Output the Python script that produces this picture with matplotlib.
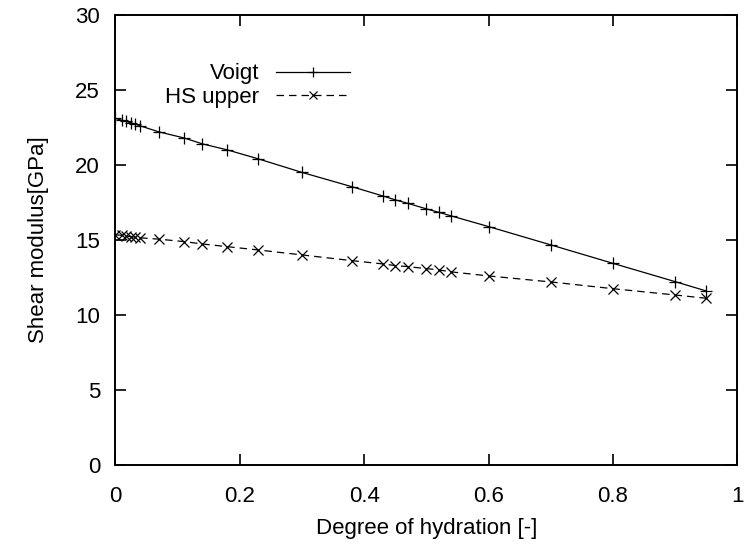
import numpy as np
import matplotlib
matplotlib.use('Agg')
import matplotlib.pyplot as plt

plt.rcParams['font.family'] = ['Liberation Sans', 'DejaVu Sans']

# degree of hydration
alpha = [0.0, 0.01, 0.017, 0.025, 0.032, 0.04, 0.07, 0.11, 0.14, 0.18, 0.23, 0.3,
         0.38, 0.43, 0.45, 0.47, 0.5, 0.52, 0.54, 0.6, 0.7, 0.8, 0.9, 0.95]
# shear modulus [GPa]
voigt = [23.1, 22.98, 22.9, 22.8, 22.72, 22.6, 22.2, 21.8, 21.4, 21.0, 20.4, 19.5,
         18.55, 17.93, 17.67, 17.44, 17.07, 16.84, 16.6, 15.89, 14.67, 13.44, 12.22, 11.6]
hs_upper = [15.35, 15.3, 15.26, 15.22, 15.18, 15.14, 15.05, 14.89, 14.73, 14.55, 14.33, 14.0,
            13.62, 13.4, 13.29, 13.22, 13.09, 13.0, 12.87, 12.6, 12.2, 11.75, 11.33, 11.11]

fig = plt.figure(figsize=(7.44, 5.49), dpi=100)
ax = fig.add_axes([0.155, 0.153, 0.836, 0.82])

ax.plot(alpha, voigt, color='black', lw=0.9, marker='+', ms=9, mew=0.9, label='Voigt')
ax.plot(alpha, hs_upper, color='black', lw=0.9, ls=(0, (6, 4)), marker='x', ms=7.5, mew=0.9,
        label='HS upper')

ax.set_xlim(0, 1)
ax.set_ylim(0, 30)
ax.set_xticks([0, 0.2, 0.4, 0.6, 0.8, 1])
ax.set_xticklabels(['0', '0.2', '0.4', '0.6', '0.8', '1'])
ax.set_yticks(range(0, 31, 5))
ax.tick_params(direction='in', length=8, width=1.2, top=True, right=True, labelsize=16)
ax.tick_params(axis='x', pad=15)
ax.tick_params(axis='y', pad=11)
for s in ax.spines.values():
    s.set_linewidth(1.4)

ax.set_xlabel('Degree of hydration [-]', fontsize=16, labelpad=8)
ax.set_ylabel('Shear modulus[GPa]', fontsize=16, labelpad=19)

ax.legend(loc='upper right', bbox_to_anchor=(0.378, 0.892), frameon=False, markerfirst=False,
          fontsize=16, handlelength=3.35, handletextpad=0.75, labelspacing=0.12,
          borderaxespad=0, borderpad=0, markerscale=0.85)

fig.savefig('out.png', dpi=100)
